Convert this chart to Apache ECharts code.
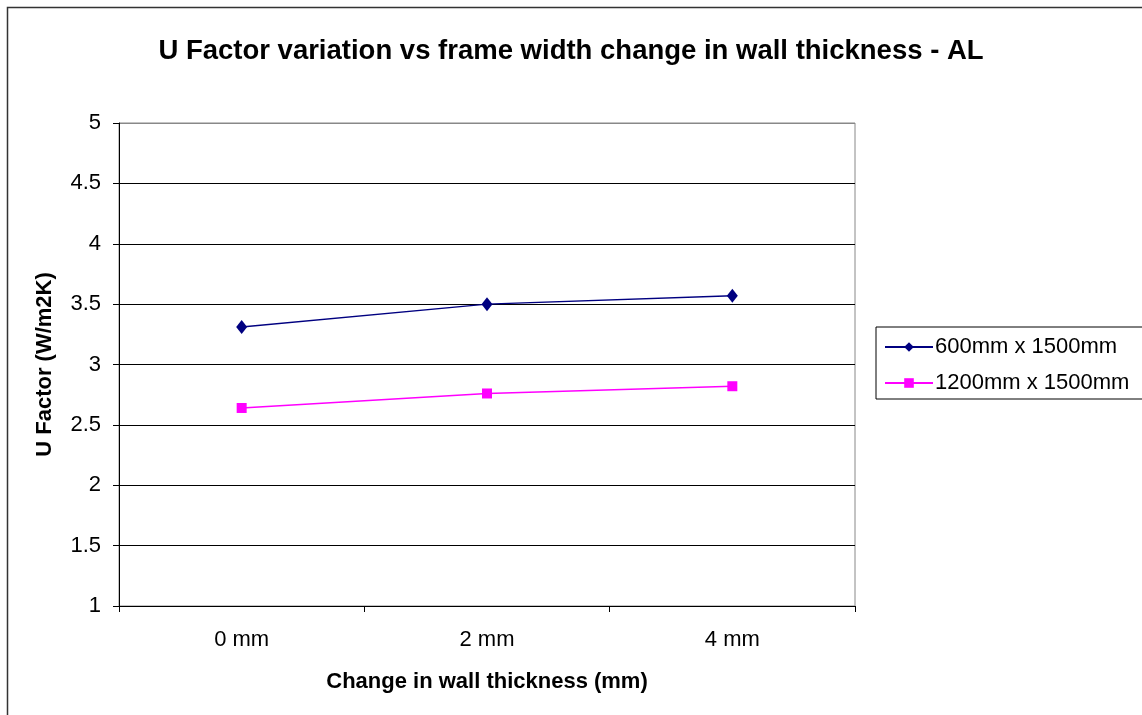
<!DOCTYPE html>
<html>
<head>
<meta charset="utf-8">
<script src="https://cdn.jsdelivr.net/npm/echarts@6/dist/echarts.min.js"></script>
<style>
  html, body { margin: 0; padding: 0; background: #fff; }
  #chart1 { width: 1142px; height: 715px; }
</style>
</head>
<body>
<div id="chart1"></div>
<script>
var categories = ['0 mm', '2 mm', '4 mm'];
var yTicks = ['1', '1.5', '2', '2.5', '3', '3.5', '4', '4.5', '5'];
var series600 = [3.31, 3.50, 3.57];
var series1200 = [2.64, 2.76, 2.82];

var dom = document.getElementById('chart1');
var myChart = echarts.init(dom, null, { renderer: 'canvas' });

var font = "'Liberation Sans', Arial, sans-serif";

var option = {
  animation: false,
  textStyle: { fontFamily: font },
  graphic: [{
    type: 'rect',
    shape: { x: 7.5, y: 7.5, width: 1150, height: 720 },
    style: { fill: 'none', stroke: '#333', lineWidth: 1.5 },
    silent: true
  }],
  title: {
    text: 'U Factor variation vs frame width change in wall thickness - AL',
    left: 'center',
    top: 32,
    textStyle: { fontSize: 27.5, fontWeight: 'bold', color: '#000', fontFamily: font }
  },
  legend: {
    orient: 'vertical',
    left: 876,
    top: 327,
    itemWidth: 48,
    itemHeight: 12,
    itemGap: 14,
    padding: [9, 60, 5, 8],
    borderColor: '#000',
    borderWidth: 1,
    textStyle: { fontSize: 22, lineHeight: 22, color: '#000', fontFamily: font, padding: [0, 0, 0, -3] },
    data: ['600mm x 1500mm', '1200mm x 1500mm']
  },
  grid: {
    left: 119,
    right: 287,
    top: 123,
    bottom: 109,
    show: true,
    borderColor: '#888',
    borderWidth: 1
  },
  xAxis: {
    type: 'category',
    data: categories,
    boundaryGap: true,
    name: 'Change in wall thickness (mm)',
    nameLocation: 'middle',
    nameGap: 65,
    nameTextStyle: { fontSize: 22, fontWeight: 'bold', color: '#000', fontFamily: font },
    axisLine: { lineStyle: { color: '#000', width: 1 } },
    axisTick: { show: true, length: 6, lineStyle: { color: '#000' } },
    axisLabel: { fontSize: 22, color: '#000', margin: 23, fontFamily: font }
  },
  yAxis: {
    type: 'value',
    min: 1,
    max: 5,
    interval: 0.5,
    name: 'U Factor (W/m2K)',
    nameLocation: 'middle',
    nameGap: 63,
    nameTextStyle: { fontSize: 22, fontWeight: 'bold', color: '#000', fontFamily: font },
    axisLine: { show: true, lineStyle: { color: '#000', width: 1 } },
    axisTick: { show: true, length: 6, lineStyle: { color: '#000' } },
    axisLabel: {
      fontSize: 22, color: '#000', margin: 18, fontFamily: font,
      formatter: function (v) { return yTicks[Math.round((v - 1) / 0.5)]; }
    },
    splitLine: {
      show: true,
      lineStyle: { color: ['#000', '#000', '#000', '#000', '#000', '#000', '#000', '#000', '#888'], width: 1 }
    }
  },
  series: [
    {
      name: '600mm x 1500mm',
      type: 'line',
      data: series600,
      symbol: 'diamond',
      symbolSize: [11, 14],
      color: '#000080',
      lineStyle: { color: '#000080', width: 1.5 },
      itemStyle: { color: '#000080' }
    },
    {
      name: '1200mm x 1500mm',
      type: 'line',
      data: series1200,
      symbol: 'rect',
      symbolSize: 10,
      color: '#FF00FF',
      lineStyle: { color: '#FF00FF', width: 1.5 },
      itemStyle: { color: '#FF00FF' }
    }
  ]
};

myChart.setOption(option);
window.addEventListener('resize', myChart.resize);
</script>
</body>
</html>
